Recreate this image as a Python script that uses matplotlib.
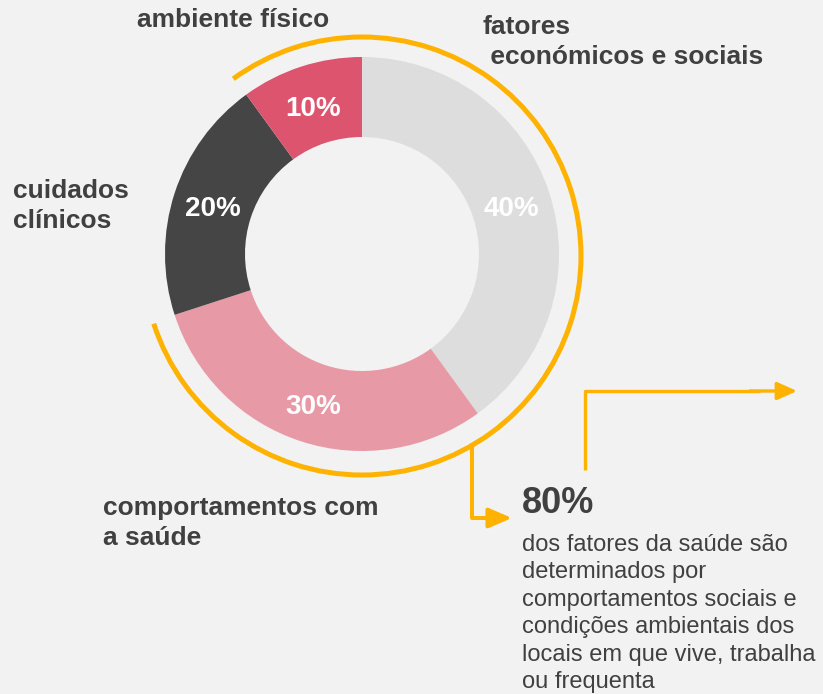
"""Donut chart: determinantes da saúde."""

import matplotlib

matplotlib.use("Agg")
import matplotlib.pyplot as plt
import numpy as np
from matplotlib.patches import Arc

# data
categories = [
    "fatores\n económicos e sociais",
    "comportamentos com\na saúde",
    "cuidados\nclínicos",
    "ambiente físico",
]
shares = [40, 30, 20, 10]
highlighted = [True, True, False, True]  # part of the 80% group
note_text = (
    "dos fatores da saúde são\n"
    "determinados por\n"
    "comportamentos sociais e\n"
    "condições ambientais dos\n"
    "locais em que vive, trabalha\n"
    "ou frequenta"
)

# style
colors = ["#DDDDDD", "#E899A6", "#454545", "#DC546D"]
BG = "#F2F2F2"
TEXT = "#404040"
ORANGE = "#FFB300"
W, H = 823, 694

plt.rcParams["font.family"] = ["Liberation Sans", "DejaVu Sans"]

fig = plt.figure(figsize=(W / 100, H / 100), dpi=100, facecolor=BG)
ax = fig.add_axes([0, 0, 1, 1])
ax.set_facecolor(BG)


def Y(y):
    # pixel row (from top) -> data y
    return H - y


cx, cy = 362, 254
r_out, ring = 197, 80

wedges, _, pct_texts = ax.pie(
    shares,
    colors=colors,
    startangle=90,
    counterclock=False,
    radius=r_out,
    center=(cx, Y(cy)),
    autopct=lambda p: f"{p:.0f}%",
    pctdistance=(r_out - ring / 2) / r_out,
    wedgeprops=dict(width=ring, linewidth=0, edgecolor="none"),
    textprops=dict(color="white", fontsize=20, fontweight="bold"),
)
for t in pct_texts:
    px, py = t.get_position()
    t.set_position((px, py - 4))

# orange arc around the highlighted slices
starts = np.concatenate([[0], np.cumsum(shares)[:-1]]) / sum(shares) * 360
ends = starts + np.array(shares) / sum(shares) * 360
arc_start = starts[3]  # first highlighted slice going clockwise
arc_end = ends[1] + 360
R, acy = 219, 256
ax.add_patch(Arc((cx, Y(acy)), 2 * R, 2 * R, theta1=90 - arc_end, theta2=90 - arc_start,
                 color=ORANGE, lw=3.6))

# connector from arc down to the 80% note
x0 = 472
y0 = acy + np.sqrt(R ** 2 - (x0 - cx) ** 2) - 2
ax.plot([x0, x0, 500], [Y(y0), Y(518), Y(518)], color=ORANGE, lw=2.9,
        solid_joinstyle="round", solid_capstyle="butt")
ax.annotate("", xy=(512, Y(518)), xytext=(485, Y(518)),
            arrowprops=dict(arrowstyle="-|>,head_length=14,head_width=6", mutation_scale=1,
                            color=ORANGE, lw=2.9, shrinkA=0, shrinkB=0))

# right-angle arrow
ax.plot([585, 585, 760], [Y(470), Y(391), Y(391)], color=ORANGE, lw=2.4,
        solid_joinstyle="round", solid_capstyle="butt")
ax.annotate("", xy=(797, Y(391)), xytext=(750, Y(391)),
            arrowprops=dict(arrowstyle="-|>,head_length=12,head_width=5.4", mutation_scale=1,
                            color=ORANGE, lw=2.4, shrinkA=0, shrinkB=0))

# category labels (x, baseline of last line)
label_pos = [(483, 64), (103, 545), (13, 228), (137, 27)]
for name, (lx, ly) in zip(categories, label_pos):
    ax.text(lx, Y(ly), name, fontsize=19, fontweight="bold", color=TEXT,
            ha="left", va="baseline", linespacing=1.32)

# note
total = sum(s for s, h in zip(shares, highlighted) if h)
ax.text(522, Y(513), f"{total}%", fontsize=26, fontweight="bold", color=TEXT,
        ha="left", va="baseline")
ax.text(522, Y(688), note_text, fontsize=17, color=TEXT, ha="left", va="baseline",
        linespacing=1.32)

ax.set_xlim(0, W)
ax.set_ylim(0, H)
ax.set_aspect("equal")
ax.axis("off")

fig.savefig("out.png", dpi=100, facecolor=BG)
